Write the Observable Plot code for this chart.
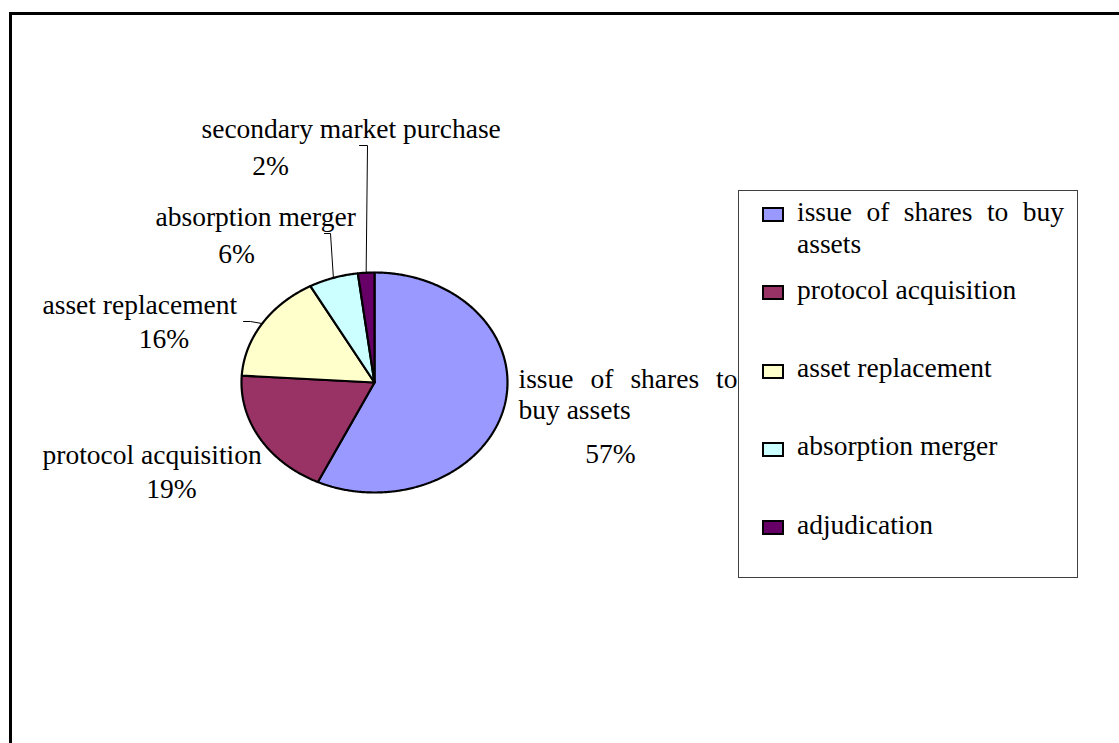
<!DOCTYPE html>
<html>
<head>
<meta charset="utf-8">
<script src="https://cdn.jsdelivr.net/npm/d3@7"></script>
<script src="https://cdn.jsdelivr.net/npm/@observablehq/plot@0.6"></script>
<style>
  html, body { margin: 0; padding: 0; background: #fff; overflow: hidden; }
  #wrap { position: relative; width: 1119px; height: 743px; overflow: hidden;
          font-family: "Liberation Serif", "Times New Roman", Times, serif; }
  #frame { position: absolute; left: 9px; top: 12px; width: 1300px; height: 900px;
           border-left: 3px solid #000; border-top: 3px solid #000; }
  #chart { position: absolute; left: 0; top: 0; }
  #legend { position: absolute; left: 738px; top: 190px; width: 340px; height: 388px;
            box-sizing: border-box; border: 1px solid #404040; background: #fff; }
  .lg-sw { position: absolute; width: 22px; height: 15px; box-sizing: border-box; border: 2px solid #000; }
  .lg-tx { position: absolute; font-size: 27.5px; line-height: 32px; text-align: justify; color: #000; }
</style>
</head>
<body>
<div id="wrap">
  <div id="frame"></div>
  <div id="chart"></div>
  <div id="legend"></div>
</div>
<script>
// ---------------- data ----------------
const categories = [
  "issue of shares to buy assets",
  "protocol acquisition",
  "asset replacement",
  "absorption merger",
  "adjudication"
];
const pieLabels = [
  "issue of shares to buy assets",
  "protocol acquisition",
  "asset replacement",
  "absorption merger",
  "secondary market purchase"
];
const shares = [57, 19, 16, 6, 2];
const colors = ["#9999FF", "#993366", "#FFFFCC", "#CCFFFF", "#660066"];

// ---------------- layout (pixels) ----------------
const FONT = '"Liberation Serif", "Times New Roman", Times, serif';
const FS = 27.5;
const pie = {cx: 374, cy: 382, rx: 133, ry: 110};
// label: start x, baseline of last line; percent: center x, baseline
const labelLayout = [
  {x: 518, y: 418, wrap: 219, justify: true, px: 610, py: 462},
  {x: 42,  y: 463, wrap: 400, px: 171, py: 497},
  {x: 42,  y: 313, wrap: 400, px: 163.5, py: 347},
  {x: 155, y: 225, wrap: 400, px: 236, py: 262},
  {x: 201, y: 137, wrap: 400, px: 270, py: 174}
];
// leader line start points (label side); pie end is computed from the slice angle
const leaderLayout = [
  {pts: [[795, 267], [803, 288]], toPie: false},
  null,
  {pts: [[243, 321], [250, 321]], toPie: true},
  {pts: [[324, 233], [330, 233]], toPie: true},
  {pts: [[359, 145], [367, 145]], toPie: true}
];
const legendLayout = {swX: 23, txX: 58, txW: 267, firstBaseline: 30, pitch: 78.25};

// ---------------- helpers ----------------
const toX = px => (px - pie.cx) / pie.rx;
const toY = py => (pie.cy - py) / pie.ry;
const ctx = document.createElement("canvas").getContext("2d");
ctx.font = `${FS}px ${FONT}`;
function wrap(text, maxW) {
  const words = text.split(" "); const lines = []; let cur = "";
  for (const w of words) {
    const t = cur ? cur + " " + w : w;
    if (ctx.measureText(t).width > maxW && cur) { lines.push(cur); cur = w; } else cur = t;
  }
  if (cur) lines.push(cur);
  return lines;
}

// ---------------- pie geometry from values ----------------
const total = d3.sum(shares);
const slices = [];
const midAngles = [];
let cum = 0;
shares.forEach((v, i) => {
  const a0 = cum / total * 2 * Math.PI; cum += v; const a1 = cum / total * 2 * Math.PI;
  midAngles.push((a0 + a1) / 2);
  slices.push({cat: categories[i], x: 0, y: 0});
  const n = Math.max(2, Math.ceil((a1 - a0) / (Math.PI / 360)));
  for (let k = 0; k <= n; k++) {
    const t = a0 + (a1 - a0) * k / n;
    slices.push({cat: categories[i], x: Math.sin(t), y: Math.cos(t)});
  }
  slices.push({cat: categories[i], x: 0, y: 0});
});

const leaders = [];
leaderLayout.forEach((L, i) => {
  if (!L) return;
  L.pts.forEach(([px, py]) => leaders.push({id: i, x: toX(px), y: toY(py)}));
  if (L.toPie) leaders.push({id: i, x: Math.sin(midAngles[i]), y: Math.cos(midAngles[i])});
});

const justifyLines = [];
const labels = pieLabels.map((t, i) => {
  const L = labelLayout[i];
  const lines = wrap(t, L.wrap);
  if (L.justify && lines.length > 1) justifyLines.push({text: lines[0], width: L.wrap});
  return {text: lines.join("\n"), x: toX(L.x), y: toY(L.y)};
});
const pcts = shares.map((v, i) => ({text: `${v}%`, x: toX(labelLayout[i].px), y: toY(labelLayout[i].py)}));

// ---------------- chart ----------------
const chart = Plot.plot({
  width: 1119,
  height: 743,
  margin: 0,
  x: {domain: [-1, 1], range: [pie.cx - pie.rx, pie.cx + pie.rx], axis: null},
  y: {domain: [-1, 1], range: [pie.cy + pie.ry, pie.cy - pie.ry], axis: null},
  color: {type: "ordinal", domain: categories, range: colors},
  style: {fontFamily: FONT, fontSize: FS + "px", background: "transparent", overflow: "visible", color: "#000"},
  marks: [
    Plot.line(slices, {x: "x", y: "y", z: "cat", fill: "cat", stroke: "#000", strokeWidth: 2.2, strokeLinejoin: "miter", curve: "linear"}),
    Plot.line(leaders, {x: "x", y: "y", z: "id", stroke: "#000", strokeWidth: 1, curve: "linear"}),
    Plot.text(labels, {x: "x", y: "y", text: "text", textAnchor: "start", lineAnchor: "bottom", lineHeight: 31 / FS, fontSize: FS, fontFamily: FONT, fill: "#000"}),
    Plot.text(pcts, {x: "x", y: "y", text: "text", textAnchor: "middle", lineAnchor: "bottom", fontSize: FS, fontFamily: FONT, fill: "#000"})
  ]
});
document.getElementById("chart").appendChild(chart);

// justify the first line of wrapped labels (word spacing)
chart.querySelectorAll("tspan, text").forEach(el => {
  const j = justifyLines.find(d => d.text === el.textContent);
  if (!j) return;
  const w = el.getComputedTextLength();
  const spaces = (j.text.match(/ /g) || []).length;
  if (spaces) el.style.wordSpacing = ((j.width - w) / spaces) + "px";
});

// ---------------- legend ----------------
const color = chart.scale("color");
const legend = d3.select("#legend");
categories.forEach((c, i) => {
  const base = legendLayout.firstBaseline + legendLayout.pitch * i;
  legend.append("div").attr("class", "lg-sw")
    .style("left", legendLayout.swX + "px")
    .style("top", (base - 14) + "px")
    .style("background", color.apply(c));
  legend.append("div").attr("class", "lg-tx")
    .style("left", legendLayout.txX + "px")
    .style("width", legendLayout.txW + "px")
    .style("top", (base - 25.3) + "px")
    .text(c);
});
</script>
</body>
</html>
